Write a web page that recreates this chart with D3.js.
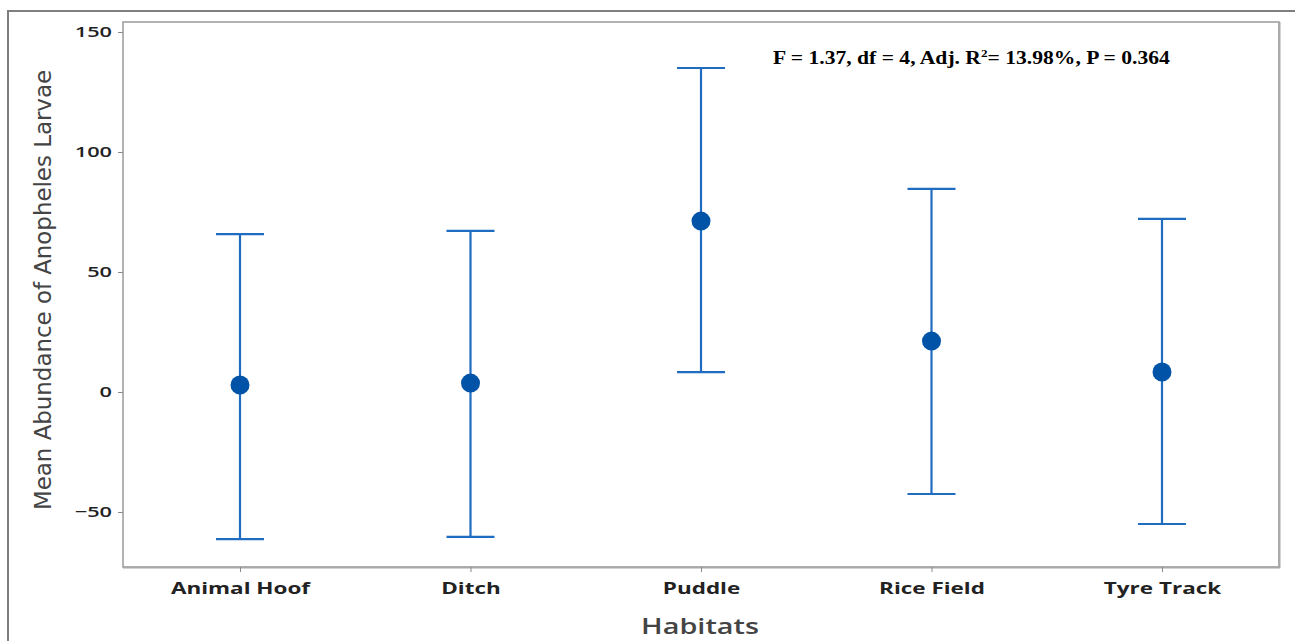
<!DOCTYPE html>
<html><head><meta charset="utf-8">
<script src="https://cdn.jsdelivr.net/npm/d3@7"></script>
<style>body{margin:0;background:#fff;} svg{display:block;}</style>
</head><body>
<script>
const categories = ["Animal Hoof", "Ditch", "Puddle", "Rice Field", "Tyre Track"];
const means = [2.9, 3.7, 71.2, 21.2, 8.3];
const upper = [65.8, 67.1, 135.0, 84.6, 72.1];
const lower = [-61.3, -60.4, 8.3, -42.5, -55.0];
const yTicks = [-50, 0, 50, 100, 150];

const W = 1295, H = 641;
const svg = d3.select("body").append("svg").attr("width", W).attr("height", H);

// outer border
svg.append("rect").attr("x", 8).attr("y", 11).attr("width", 1300).attr("height", 640)
  .attr("fill", "none").attr("stroke", "#7f7f7f").attr("stroke-width", 2);

const plot = {l: 123, t: 22, r: 1279, b: 567};
const y = d3.scaleLinear().domain([-50, 150]).range([512, 32]);
const x = d3.scalePoint().domain(categories).range([240, 1162]);

// frame
svg.append("rect").attr("x", plot.l).attr("y", plot.t).attr("width", plot.r - plot.l).attr("height", plot.b - plot.t)
  .attr("fill", "none").attr("stroke", "#9a9a9a").attr("stroke-width", 1.5);
svg.append("line").attr("x1", plot.r + 0.5).attr("x2", plot.r + 0.5).attr("y1", plot.t).attr("y2", plot.b + 1)
  .attr("stroke", "#a8a8a8").attr("stroke-width", 2);
svg.append("line").attr("x1", plot.l).attr("x2", plot.r + 1).attr("y1", plot.b + 0.5).attr("y2", plot.b + 0.5)
  .attr("stroke", "#a8a8a8").attr("stroke-width", 2);

const sx = 1.45;
// y axis
const yAxis = svg.append("g").attr("transform", `translate(${plot.l},0)`)
  .call(d3.axisLeft(y).tickValues(yTicks).tickSize(5).tickPadding(7));
yAxis.select(".domain").remove();
yAxis.selectAll(".tick line").attr("stroke", "#8a8a8a");
yAxis.selectAll("text").attr("font-family", "'Open Sans', 'DejaVu Sans', sans-serif")
  .attr("font-size", 15).attr("font-weight", 600).attr("fill", "#222")
  .attr("x", -11 / sx).attr("transform", `scale(${sx},1)`);

// x axis
const xAxis = svg.append("g").attr("transform", `translate(0,${plot.b})`)
  .call(d3.axisBottom(x).tickSize(5).tickPadding(11));
xAxis.select(".domain").remove();
xAxis.selectAll(".tick line").attr("stroke", "#8a8a8a");
xAxis.selectAll("text").attr("font-family", "'Open Sans', 'DejaVu Sans', sans-serif")
  .attr("font-size", 15.5).attr("font-weight", 700).attr("fill", "#222")
  .attr("transform", `scale(${sx},1)`);

// axis titles
svg.append("text").attr("transform", "translate(700,634) scale(1.34,1)").attr("text-anchor", "middle")
  .attr("font-family", "'Open Sans', 'DejaVu Sans', sans-serif").attr("font-size", 21.5).attr("font-weight", 600)
  .attr("fill", "#444").text("Habitats");
svg.append("text").attr("transform", "translate(51,290) rotate(-90)").attr("text-anchor", "middle")
  .attr("font-family", "'DejaVu Sans Condensed', 'Open Sans', sans-serif").attr("font-size", 23)
  .attr("textLength", 440).attr("lengthAdjust", "spacingAndGlyphs")
  .attr("fill", "#444").text("Mean Abundance of Anopheles Larvae");

// annotation
const ann = svg.append("text").attr("transform", "translate(773,64) scale(1.2,1)")
  .attr("font-family", "'Liberation Serif', 'Times New Roman', serif").attr("font-size", 18).attr("font-weight", 700)
  .attr("fill", "#000");
ann.append("tspan").text("F = 1.37, df = 4, Adj. R");
ann.append("tspan").attr("dy", -7).attr("font-size", 11).text("2");
ann.append("tspan").attr("dy", 7).text("= 13.98%, P = 0.364");

// error bars
const col = "#1f6cc0";
const g = svg.append("g");
categories.forEach((c, i) => {
  const cx = x(c);
  g.append("line").attr("x1", cx).attr("x2", cx).attr("y1", y(upper[i])).attr("y2", y(lower[i]))
    .attr("stroke", col).attr("stroke-width", 2.2);
  [upper[i], lower[i]].forEach(v => {
    g.append("line").attr("x1", cx - 24).attr("x2", cx + 24).attr("y1", y(v)).attr("y2", y(v))
      .attr("stroke", col).attr("stroke-width", 2.2);
  });
  g.append("circle").attr("cx", cx).attr("cy", y(means[i])).attr("r", 9.5).attr("fill", "#0053a6");
});
</script>
</body></html>
